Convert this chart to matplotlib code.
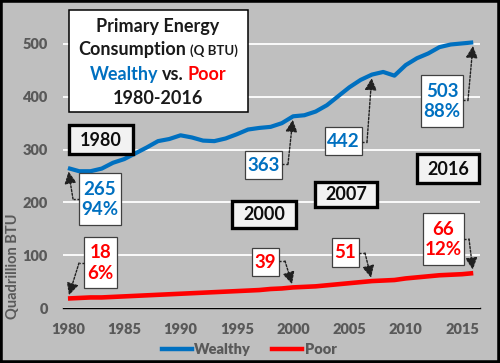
import matplotlib
matplotlib.use('Agg')
import matplotlib.pyplot as plt
from matplotlib.patches import Rectangle
from matplotlib.lines import Line2D

# ---------------- data ----------------
years = list(range(1980, 2017))
wealthy = [265, 259, 259, 264, 275, 282, 293, 304, 316, 320,
           327, 323, 317, 316, 321, 329, 338, 341, 343, 350,
           363, 365, 372, 384, 401, 418, 432, 442, 447, 440,
           460, 473, 482, 494, 499, 501, 503]
poor = [18, 19, 20, 20, 21, 22, 23, 24, 25, 26,
        27, 28, 29, 30, 31, 32, 33, 34, 36, 37,
        39, 40, 41, 43, 45, 47, 49, 51, 52, 53,
        56, 58, 60, 62, 63, 64, 66]
x_ticks = [1980, 1985, 1990, 1995, 2000, 2005, 2010, 2015]
y_ticks = [0, 100, 200, 300, 400, 500]
series_names = ["Wealthy", "Poor"]
callout_texts = ["265\n94%", "18\n6%", "363", "442", "503\n88%", "39", "51", "66\n12%"]
callout_series = ["Wealthy", "Poor", "Wealthy", "Wealthy", "Wealthy", "Poor", "Poor", "Poor"]
callout_years = [1980, 1980, 2000, 2007, 2016, 2000, 2007, 2016]
year_labels = ["1980", "2000", "2007", "2016"]

# ---------------- style / layout ----------------
BLUE = "#0070C0"
RED = "#FF0000"
BG = "#BFBFBF"
GRAY = "#595959"
FONT = ["Lato", "DejaVu Sans"]
plt.rcParams['font.family'] = FONT

W, H = 500, 363
fig = plt.figure(figsize=(W / 100, H / 100), dpi=100)
fig.patch.set_facecolor(BG)

def fx(px):
    return px / W

def fy(py_top):
    return (H - py_top) / H

ax = fig.add_axes([fx(63), fy(308), fx(480) - fx(63), fy(33.4) - fy(308)])
ax.set_facecolor(BG)
ax.set_xlim(1979.56, 2016.6)
ax.set_ylim(0, 520)
for s in ["top", "right", "left"]:
    ax.spines[s].set_visible(False)
ax.spines["bottom"].set_color("black")
ax.spines["bottom"].set_linewidth(1.0)
ax.set_yticks(y_ticks)
ax.set_xticks(x_ticks)
ax.yaxis.grid(True, color="white", linewidth=1.3)
ax.set_axisbelow(True)
ax.tick_params(length=0, colors=GRAY, labelsize=10.5)
ax.tick_params(axis='x', pad=10.5)
ax.tick_params(axis='y', pad=11)
for lab in ax.get_xticklabels() + ax.get_yticklabels():
    lab.set_fontweight("heavy")

series = {"Wealthy": wealthy, "Poor": poor}
colors = {"Wealthy": BLUE, "Poor": RED}
ax.plot(years, wealthy, color=BLUE, lw=3.0, solid_capstyle='butt', zorder=3)
ax.plot(years, poor, color=RED, lw=3.3, solid_capstyle='butt', zorder=3)

fig.text(fx(13), fy(266), "Quadrillion BTU", rotation=90, ha="center", va="center",
         color=GRAY, fontsize=10.5, fontweight="bold")

# legend
handles = [Line2D([], [], color=BLUE, lw=3.2), Line2D([], [], color=RED, lw=3.2)]
leg = fig.legend(handles, series_names, loc="center", bbox_to_anchor=(fx(249), fy(350)),
                 ncol=2, frameon=False, handlelength=2.1, handletextpad=0.15,
                 columnspacing=1.4, prop={"weight": "heavy", "size": 10.5, "family": FONT})
for t in leg.get_texts():
    t.set_color(GRAY)

# title box
fig.patches.append(Rectangle((fx(69), fy(112)), fx(248) - fx(69), fy(10) - fy(112),
                             transform=fig.transFigure, facecolor="white",
                             edgecolor="black", lw=1.1, zorder=5))

renderer = fig.canvas.get_renderer()

def chain_line(parts, cx, base_y):
    objs = []
    widths = []
    for txt, col, size in parts:
        t = fig.text(0, fy(base_y), txt, color=col, fontsize=size, fontweight="bold",
                     ha="left", va="baseline", zorder=6)
        objs.append(t)
        widths.append(t.get_window_extent(renderer).width)
    space = 4.0
    total = sum(widths) + space * (len(parts) - 1)
    x = cx - total / 2
    for t, w in zip(objs, widths):
        t.set_x(fx(x))
        x += w + space

TCOL = "#1A1A1A"
chain_line([("Primary Energy", TCOL, 13)], 158, 31.7)
chain_line([("Consumption", TCOL, 13), ("(Q BTU)", TCOL, 9.5)], 158, 55)
chain_line([("Wealthy", BLUE, 13), ("vs.", TCOL, 13), ("Poor", RED, 13)], 158, 80)
chain_line([("1980-2016", TCOL, 13)], 158, 104.3)

# year boxes (pixel rectangles: left, top, right, bottom)
year_boxes = [(69, 125, 133, 154), (232, 201, 296, 228), (315, 182, 377, 207), (417, 154, 479, 183)]
for lab, (l, t, r, b) in zip(year_labels, year_boxes):
    fig.patches.append(Rectangle((fx(l), fy(b)), fx(r) - fx(l), fy(t) - fy(b),
                                 transform=fig.transFigure, facecolor="#F2F2F2",
                                 edgecolor="black", lw=2.4, zorder=5))
    fig.text(fx((l + r) / 2), fy((t + b) / 2 + 0.5), lab, ha="center", va="center",
             fontsize=13, fontweight="bold", color="#0D0D0D", zorder=6)

# callout boxes and dotted arrows
callout_boxes = [(79, 173, 121, 225), (84, 237, 117, 288), (245, 151, 282, 179),
                 (325, 127, 362, 155), (421, 75, 463, 127), (252, 248, 279, 276),
                 (332, 238, 359, 267), (423, 213, 464, 265)]
callout_side = ["left", "left", "right", "right", "right", "right", "right", "right"]
callout_elbow = [(73, 199), (79, 263), (288, 164), (367, 142), (468, 100),
                 (285, 261), (365, 253), (469, 239)]
for txt, sname, yr, (l, t, r, b), side, (ex, ey) in zip(
        callout_texts, callout_series, callout_years, callout_boxes, callout_side, callout_elbow):
    fig.patches.append(Rectangle((fx(l), fy(b)), fx(r) - fx(l), fy(t) - fy(b),
                                 transform=fig.transFigure, facecolor="white",
                                 edgecolor="#404040", lw=0.9, zorder=5))
    fig.text(fx((l + r) / 2), fy((t + b) / 2 + 0.5), txt, ha="center", va="center",
             fontsize=13.5, fontweight="bold", color=colors[sname], linespacing=1.25, zorder=6)
    bx = l if side == "left" else r
    fig.lines.append(Line2D([fx(bx), fx(ex)], [fy(ey), fy(ey)], transform=fig.transFigure,
                            color="#202020", lw=1.0, linestyle=(0, (1.5, 1.2)), zorder=6))
    val = series[sname][years.index(yr)]
    ax.annotate("", xy=(yr, val), xycoords="data", xytext=(ex, H - ey),
                textcoords="figure pixels",
                arrowprops=dict(arrowstyle="-|>,head_length=0.6,head_width=0.3",
                                color="#202020", lw=1.0, linestyle=(0, (1.5, 1.2)),
                                shrinkA=0, shrinkB=2.5, mutation_scale=12),
                zorder=6, annotation_clip=False)

# figure border
fig.patches.append(Rectangle((0, 0), 1, 1, transform=fig.transFigure, fill=False,
                             edgecolor="black", lw=4, zorder=10))

fig.savefig("out.png", dpi=100, facecolor=BG)
